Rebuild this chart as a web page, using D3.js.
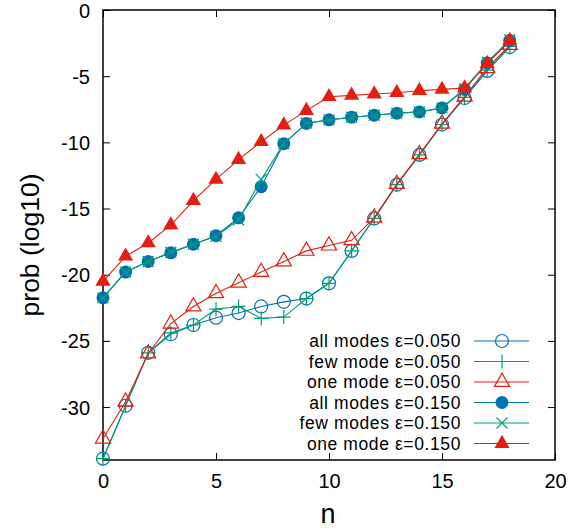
<!DOCTYPE html>
<html>
<head>
<meta charset="utf-8">
<script src="https://cdn.jsdelivr.net/npm/d3@7"></script>
<style>
  html, body { margin: 0; padding: 0; background: #fff; }
  svg { display: block; font-family: "Liberation Sans", Arial, Helvetica, sans-serif; }
</style>
</head>
<body>
<svg id="chart" width="583" height="530"></svg>
<script>
// photon-number index
const nValues = d3.range(0, 19);

// log10 probabilities per configuration
const allModes005  = [-33.9, -29.9, -25.9, -24.5, -23.8, -23.25, -22.9, -22.4, -22.05, -21.8, -20.65, -18.2, -15.75, -13.2, -10.95, -8.65, -6.65, -4.6, -2.8];
const fewMode005   = [-33.9, -29.9, -25.9, -24.4, -23.8, -22.6, -22.4, -23.3, -23.2, -21.8, -20.65, -18.2, -15.75, -13.2, -10.95, -8.65, -6.6, -4.55, -2.75];
const oneMode005   = [-32.4, -29.6, -25.95, -23.7, -22.4, -21.4, -20.6, -19.8, -19.0, -18.2, -17.8, -17.4, -15.7, -13.15, -10.9, -8.6, -6.55, -4.4, -2.65];
const allModes015  = [-21.75, -19.8, -19.0, -18.35, -17.7, -17.05, -15.7, -13.35, -10.1, -8.57, -8.3, -8.1, -7.95, -7.8, -7.7, -7.4, -6.0, -4.0, -2.3];
const fewModes015  = [-21.75, -19.8, -19.0, -18.3, -17.7, -17.1, -15.85, -12.8, -10.1, -8.55, -8.3, -8.1, -7.95, -7.8, -7.7, -7.4, -5.95, -3.95, -2.25];
const oneMode015   = [-20.5, -18.6, -17.6, -16.25, -14.4, -12.8, -11.3, -9.95, -8.7, -7.6, -6.55, -6.45, -6.35, -6.25, -6.1, -6.0, -5.9, -4.05, -2.3];

const seriesLabels = [
  "all modes \u03b5=0.050",
  "few mode \u03b5=0.050",
  "one mode \u03b5=0.050",
  "all modes \u03b5=0.150",
  "few modes \u03b5=0.150",
  "one mode \u03b5=0.150"
];

const xTicks = [0, 5, 10, 15, 20];
const yTicks = [0, -5, -10, -15, -20, -25, -30];

const BLUE = "#0072B2", GREEN = "#009E73", RED = "#E51E10";

const series = [
  { label: seriesLabels[0], values: allModes005, color: BLUE,  marker: "circleOpen" },
  { label: seriesLabels[1], values: fewMode005,  color: GREEN, marker: "plus" },
  { label: seriesLabels[2], values: oneMode005,  color: RED,   marker: "triangleOpen" },
  { label: seriesLabels[3], values: allModes015, color: BLUE,  marker: "circleFilled" },
  { label: seriesLabels[4], values: fewModes015, color: GREEN, marker: "cross" },
  { label: seriesLabels[5], values: oneMode015,  color: RED,   marker: "triangleFilled" }
];

const svg = d3.select("#chart");
const plot = { left: 103, right: 555, top: 10, bottom: 460 };

const x = d3.scaleLinear().domain([0, 20]).range([plot.left, plot.right]);
const y = d3.scaleLinear().domain([-34, 0]).range([plot.bottom, plot.top]);

// axes with inward ticks on all four sides
const tickLen = 7;
const fontSize = 20;
const plainNumber = d => String(d);   // ASCII hyphen for negatives

const gLeft = svg.append("g").attr("transform", `translate(${plot.left},0)`)
  .call(d3.axisLeft(y).tickValues(yTicks).tickSize(-tickLen).tickPadding(13).tickFormat(plainNumber));
const gRight = svg.append("g").attr("transform", `translate(${plot.right},0)`)
  .call(d3.axisRight(y).tickValues(yTicks).tickSize(-tickLen).tickFormat(""));
const gBottom = svg.append("g").attr("transform", `translate(0,${plot.bottom})`)
  .call(d3.axisBottom(x).tickValues(xTicks).tickSize(-tickLen).tickPadding(14).tickFormat(plainNumber));
const gTop = svg.append("g").attr("transform", `translate(0,${plot.top})`)
  .call(d3.axisTop(x).tickValues(xTicks).tickSize(-tickLen).tickFormat(""));

[gLeft, gRight, gBottom, gTop].forEach(g => {
  g.select(".domain").remove();
  g.selectAll(".tick line").attr("stroke", "#000").attr("stroke-width", 1);
  g.selectAll(".tick text").attr("fill", "#000").attr("font-size", fontSize)
    .attr("font-family", "Liberation Sans, Arial, sans-serif");
});
gLeft.selectAll(".tick text").attr("dy", "0.35em");
gBottom.selectAll(".tick text").attr("dy", "0.71em");

// plot frame
svg.append("rect")
  .attr("x", plot.left).attr("y", plot.top)
  .attr("width", plot.right - plot.left).attr("height", plot.bottom - plot.top)
  .attr("fill", "none").attr("stroke", "#000").attr("stroke-width", 1.5);

// axis titles
svg.append("text")
  .attr("transform", `translate(39,245) rotate(-90)`)
  .attr("text-anchor", "middle")
  .attr("font-size", 26.5).attr("fill", "#000")
  .text("prob (log10)");
svg.append("text")
  .attr("x", 328).attr("y", 523)
  .attr("text-anchor", "middle")
  .attr("font-size", 27).attr("fill", "#000")
  .text("n");

// marker drawing
function drawMarker(g, kind, color) {
  switch (kind) {
    case "circleOpen":
      g.append("circle").attr("r", 6.5).attr("fill", "none").attr("stroke", color).attr("stroke-width", 1.2);
      break;
    case "circleFilled":
      g.append("circle").attr("r", 6.5).attr("fill", color).attr("stroke", "none");
      break;
    case "plus":
      g.append("path").attr("d", "M-7,0H7M0,-7V7").attr("stroke", color).attr("stroke-width", 1.2).attr("fill", "none");
      break;
    case "cross":
      g.append("path").attr("d", "M-5.5,-5.5L5.5,5.5M-5.5,5.5L5.5,-5.5").attr("stroke", color).attr("stroke-width", 1.2).attr("fill", "none");
      break;
    case "triangleOpen":
      g.append("path").attr("d", d3.symbol(d3.symbolTriangle, 100)()).attr("fill", "none").attr("stroke", color).attr("stroke-width", 1.2);
      break;
    case "triangleFilled":
      g.append("path").attr("d", d3.symbol(d3.symbolTriangle, 100)()).attr("fill", color).attr("stroke", "none");
      break;
  }
}

const line = d3.line().x((d, i) => x(nValues[i])).y(d => y(d));

const plotArea = svg.append("g");
series.forEach(s => {
  const g = plotArea.append("g");
  g.append("path")
    .attr("d", line(s.values))
    .attr("fill", "none").attr("stroke", s.color).attr("stroke-width", 1.1);
  s.values.forEach((v, i) => {
    const m = g.append("g").attr("transform", `translate(${x(nValues[i])},${y(v)})`);
    drawMarker(m, s.marker, s.color);
  });
});

// legend
const legend = svg.append("g");
const legendRows = [341, 361.5, 382, 402.5, 423, 443.5];
series.forEach((s, i) => {
  const row = legend.append("g").attr("transform", `translate(0,${legendRows[i]})`);
  row.append("text")
    .attr("x", 461).attr("y", 0).attr("dy", "0.35em")
    .attr("text-anchor", "end").attr("font-size", 17.5)
    .attr("letter-spacing", 0.6).attr("fill", "#000")
    .text(s.label);
  row.append("line")
    .attr("x1", 474).attr("x2", 529).attr("y1", 0).attr("y2", 0)
    .attr("stroke", s.color).attr("stroke-width", 1.1);
  const m = row.append("g").attr("transform", "translate(502,0)");
  drawMarker(m, s.marker, s.color);
});
</script>
</body>
</html>
